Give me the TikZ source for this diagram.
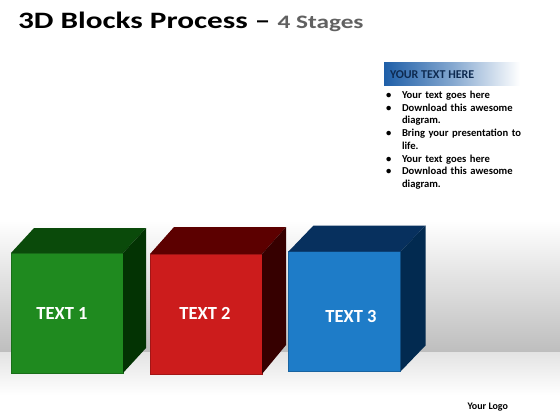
\documentclass[tikz,border=0pt]{standalone}
\usepackage{fontspec}
\setmainfont{Carlito}
\newfontfamily\titlefont{Carlito}[FakeStretch=1.33]
\usepackage{tikz}
\definecolor{gfront}{HTML}{1F8A1F}
\definecolor{gtop}{HTML}{0A4A0A}
\definecolor{gside}{HTML}{033303}
\definecolor{rfront}{HTML}{CC1C1C}
\definecolor{rtop}{HTML}{5C0000}
\definecolor{rside}{HTML}{360000}
\definecolor{bfront}{HTML}{1E7CC8}
\definecolor{btop}{HTML}{07305E}
\definecolor{bside}{HTML}{022A50}
\definecolor{hdrblue}{HTML}{1F5FA8}
\definecolor{hdrtext}{HTML}{0E2A50}
\definecolor{wallgray}{HTML}{BEBEBE}
\tikzset{
    every node/.style={inner sep=0pt, outer sep=0pt},
    front/.style={rectangle, minimum width=112pt, minimum height=120pt, draw=#1!80!black, fill=#1, line width=.4pt},
    cubetext/.style={text=white, font=\bfseries\fontsize{18.5}{18.5}\selectfont},
    bullettext/.style={anchor=base west, text width=122pt, align=left, font=\bfseries\fontsize{10.6}{12.7}\selectfont},
    bulletdot/.style={anchor=base west, font=\bfseries\fontsize{10.6}{12.7}\selectfont}
}

\begin{document}
\begin{tikzpicture}[x=1pt, y=-1pt]
        \useasboundingbox (0,0) rectangle (560,420);
        \fill[white] (0,0) rectangle (560,420);
        \shade[top color=white, bottom color=wallgray] (0,220) rectangle (560,352);
        \shade[top color=black!11, bottom color=white] (0,352) rectangle (560,395);

        \node (title) [anchor=base west, font=\titlefont\bfseries\fontsize{23.5}{23.5}\selectfont] at (18,28.5) {3D Blocks Process – {\color{black!62}\fontsize{19}{19}\selectfont 4 Stages}};

        \shade[left color=hdrblue, right color=white, middle color=hdrblue!55] (384,63) rectangle (520,86);
        \node (hdr) [anchor=base west, text=hdrtext, font=\bfseries\fontsize{12}{12}\selectfont] at (390,79) {YOUR TEXT HERE};
        \node (d1) [bulletdot] at (386,98.5) {•};
        \node (i1) [bullettext] at (402,98.5) {Your text goes here};
        \node (d2) [bulletdot] at (386,111) {•};
        \node (i2) [bullettext] at (402,111) {Download this awesome diagram.};
        \node (d3) [bulletdot] at (386,136.5) {•};
        \node (i3) [bullettext] at (402,136.5) {Bring your presentation to life.};
        \node (d4) [bulletdot] at (386,162) {•};
        \node (i4) [bullettext] at (402,162) {Your text goes here};
        \node (d5) [bulletdot] at (386,174.5) {•};
        \node (i5) [bullettext] at (402,174.5) {Download this awesome diagram.};

        \node (b1) [front=gfront] at (67,313) {};
        \fill[gtop] (b1.north west) -- ++(23,-25) -- ++(112,0) -- (b1.north east) -- cycle;
        \fill[gside] (b1.north east) -- ++(23,-25) -- ++(0,120) -- (b1.south east) -- cycle;
        \node (t1) [cubetext] at (62,313) {TEXT 1};

        \node (b2) [front=rfront] at (206,314) {};
        \fill[rtop] (b2.north west) -- ++(24,-27) -- ++(112,0) -- (b2.north east) -- cycle;
        \fill[rside] (b2.north east) -- ++(24,-27) -- ++(0,118) -- (b2.south east) -- cycle;
        \node (t2) [cubetext] at (205,313) {TEXT 2};

        \node (b3) [front=bfront] at (344.5,311.5) {};
        \fill[btop] (b3.north west) -- ++(25,-26) -- ++(112,0) -- (b3.north east) -- cycle;
        \fill[bside] (b3.north east) -- ++(25,-26) -- ++(0,120) -- (b3.south east) -- cycle;
        \node (t3) [cubetext] at (351,316) {TEXT 3};

        \node (logo) [anchor=base east, font=\bfseries\fontsize{10}{10}\selectfont] at (508,409) {Your Logo};
\end{tikzpicture}
\end{document}
